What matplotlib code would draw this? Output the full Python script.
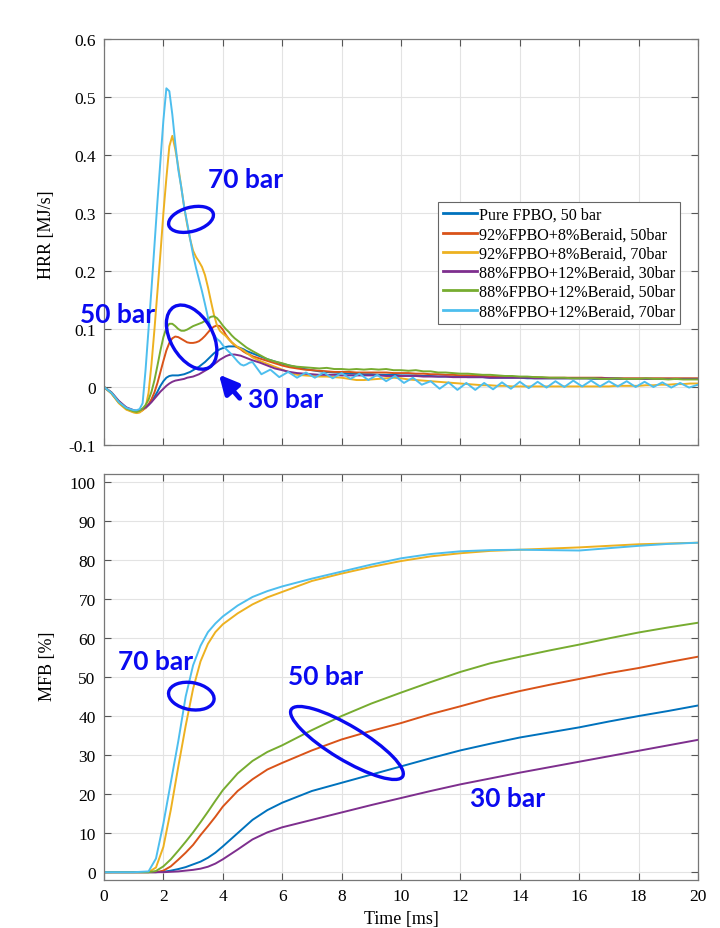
import numpy as np
import matplotlib
matplotlib.use("Agg")
import matplotlib.pyplot as plt
from matplotlib.patches import Ellipse
from matplotlib.transforms import ScaledTranslation

# ---- data ----
labels = [
    "Pure FPBO, 50 bar",
    "92%FPBO+8%Beraid, 50bar",
    "92%FPBO+8%Beraid, 70bar",
    "88%FPBO+12%Beraid, 30bar",
    "88%FPBO+12%Beraid, 50bar",
    "88%FPBO+12%Beraid, 70bar",
]
colors = ["#0072BD", "#D95319", "#EDB120", "#7E2F8E", "#77AC30", "#4DBEEE"]

# HRR time grids [ms]
t_head = np.concatenate([[0, 0.25, 0.5, 0.75], np.round(np.arange(1.0, 4.95, 0.1), 2)])
t_tail = np.arange(5.0, 20.01, 0.25)
t_ripple = np.round(np.arange(5.0, 20.01, 0.3), 2)

# HRR [MJ/s], head: 0..0.75 then 1.0..4.9 step 0.1
hrr_pure_head = [0, -0.010, -0.025, -0.036,
                 -0.041, -0.042, -0.041, -0.039, -0.036, -0.031, -0.025, -0.017, -0.008, 0.002,
                 0.010, 0.016, 0.019, 0.020, 0.020, 0.020, 0.021, 0.022, 0.024, 0.026,
                 0.029, 0.032, 0.035, 0.039, 0.043, 0.048, 0.053, 0.058, 0.062, 0.065,
                 0.067, 0.069, 0.070, 0.070, 0.070, 0.069, 0.067, 0.065, 0.062, 0.060]
hrr_92_50_head = [0, -0.011, -0.027, -0.038,
                  -0.043, -0.044, -0.043, -0.040, -0.036, -0.030, -0.021, -0.009, 0.007, 0.026,
                  0.045, 0.063, 0.076, 0.084, 0.087, 0.086, 0.083, 0.080, 0.077, 0.076,
                  0.076, 0.077, 0.079, 0.083, 0.088, 0.094, 0.100, 0.104, 0.106, 0.105,
                  0.099, 0.090, 0.083, 0.077, 0.072, 0.068, 0.065, 0.061, 0.058, 0.056]
hrr_92_70_head = [0, -0.011, -0.028, -0.039,
                  -0.044, -0.045, -0.044, -0.040, -0.035, -0.010, 0.040, 0.100, 0.165, 0.230,
                  0.300, 0.360, 0.415, 0.433, 0.410, 0.380, 0.345, 0.310, 0.280, 0.255,
                  0.235, 0.224, 0.216, 0.207, 0.193, 0.172, 0.148, 0.125, 0.107, 0.097,
                  0.092, 0.088, 0.082, 0.077, 0.073, 0.069, 0.066, 0.063, 0.059, 0.055]
hrr_88_30_head = [0, -0.009, -0.024, -0.035,
                  -0.040, -0.041, -0.040, -0.038, -0.035, -0.031, -0.026, -0.020, -0.014, -0.008,
                  -0.003, 0.002, 0.006, 0.009, 0.011, 0.012, 0.013, 0.014, 0.016, 0.017,
                  0.018, 0.020, 0.022, 0.025, 0.028, 0.031, 0.035, 0.039, 0.043, 0.047,
                  0.050, 0.053, 0.055, 0.056, 0.056, 0.055, 0.054, 0.052, 0.050, 0.048]
hrr_88_50_head = [0, -0.010, -0.026, -0.037,
                  -0.042, -0.043, -0.041, -0.037, -0.031, -0.022, -0.008, 0.012, 0.037, 0.063,
                  0.086, 0.102, 0.109, 0.109, 0.105, 0.100, 0.097, 0.097, 0.099, 0.102,
                  0.105, 0.107, 0.109, 0.111, 0.114, 0.118, 0.121, 0.122, 0.119, 0.113,
                  0.106, 0.100, 0.095, 0.089, 0.084, 0.080, 0.076, 0.072, 0.068, 0.065]
hrr_88_70_head = [0, -0.010, -0.026, -0.036,
                  -0.040, -0.040, -0.038, -0.028, 0.030, 0.100, 0.170, 0.245, 0.320, 0.390,
                  0.460, 0.515, 0.510, 0.470, 0.420, 0.375, 0.345, 0.310, 0.283, 0.255,
                  0.228, 0.205, 0.185, 0.165, 0.143, 0.120, 0.100, 0.090, 0.083, 0.079,
                  0.072, 0.066, 0.061, 0.056, 0.050, 0.044, 0.039, 0.037, 0.039, 0.042]

# HRR tails, 5.0..20.0 step 0.25
hrr_pure_tail = [0.058, 0.053, 0.048, 0.044, 0.040, 0.037, 0.034, 0.031,
                 0.029, 0.027, 0.026, 0.025, 0.024, 0.023, 0.023, 0.022,
                 0.022, 0.021, 0.021, 0.021, 0.020, 0.020, 0.020, 0.019,
                 0.019, 0.018, 0.018, 0.018, 0.018, 0.017, 0.017, 0.017,
                 0.016, 0.016, 0.016, 0.016, 0.016, 0.015, 0.015, 0.015,
                 0.015, 0.015, 0.015, 0.015, 0.015, 0.015, 0.014, 0.014,
                 0.014, 0.014, 0.014, 0.014, 0.014, 0.014, 0.014, 0.014,
                 0.014, 0.014, 0.014, 0.014, 0.014]
hrr_92_50_tail = [0.053, 0.049, 0.045, 0.041, 0.037, 0.034, 0.032, 0.030,
                  0.029, 0.028, 0.027, 0.026, 0.026, 0.026, 0.025, 0.025,
                  0.025, 0.025, 0.025, 0.024, 0.024, 0.024, 0.023, 0.023,
                  0.022, 0.022, 0.021, 0.021, 0.020, 0.020, 0.019, 0.019,
                  0.018, 0.018, 0.018, 0.017, 0.017, 0.017, 0.017, 0.016,
                  0.016, 0.016, 0.016, 0.016, 0.016, 0.016, 0.016, 0.016,
                  0.015, 0.015, 0.015, 0.015, 0.015, 0.015, 0.015, 0.015,
                  0.015, 0.015, 0.015, 0.015, 0.015]
hrr_92_70_tail = [0.051, 0.045, 0.040, 0.035, 0.030, 0.025, 0.021, 0.020,
                  0.019, 0.018, 0.018, 0.017, 0.016, 0.014, 0.012, 0.012,
                  0.013, 0.014, 0.015, 0.016, 0.015, 0.013, 0.012, 0.011,
                  0.010, 0.009, 0.008, 0.007, 0.006, 0.005, 0.004, 0.003,
                  0.003, 0.002, 0.002, 0.001, 0.001, 0.001, 0.001, 0.001,
                  0.001, 0.001, 0.001, 0.001, 0.001, 0.001, 0.001, 0.001,
                  0.001, 0.002, 0.002, 0.002, 0.002, 0.003, 0.003, 0.004,
                  0.004, 0.005, 0.005, 0.006, 0.006]
hrr_88_30_tail = [0.046, 0.042, 0.037, 0.032, 0.029, 0.026, 0.024, 0.023,
                  0.022, 0.021, 0.021, 0.021, 0.020, 0.020, 0.020, 0.020,
                  0.020, 0.020, 0.019, 0.019, 0.019, 0.019, 0.019, 0.018,
                  0.018, 0.018, 0.018, 0.017, 0.017, 0.017, 0.017, 0.017,
                  0.016, 0.016, 0.016, 0.016, 0.016, 0.016, 0.015, 0.015,
                  0.015, 0.015, 0.015, 0.015, 0.015, 0.015, 0.015, 0.015,
                  0.015, 0.015, 0.014, 0.014, 0.014, 0.014, 0.014, 0.014,
                  0.014, 0.014, 0.014, 0.014, 0.014]
hrr_88_50_tail = [0.062, 0.055, 0.048, 0.044, 0.041, 0.037, 0.035, 0.034,
                  0.033, 0.032, 0.033, 0.031, 0.031, 0.030, 0.031, 0.030,
                  0.031, 0.030, 0.031, 0.029, 0.029, 0.028, 0.029, 0.027,
                  0.027, 0.025, 0.025, 0.024, 0.023, 0.023, 0.022, 0.021,
                  0.021, 0.020, 0.019, 0.019, 0.018, 0.018, 0.017, 0.017,
                  0.016, 0.016, 0.016, 0.015, 0.015, 0.015, 0.015, 0.014,
                  0.014, 0.015, 0.014, 0.014, 0.014, 0.015, 0.014, 0.014,
                  0.013, 0.014, 0.013, 0.013, 0.013]
# 70 bar, 12% Beraid: pressure ripple, 5.0..20.0 step 0.3
hrr_88_70_tail = [0.043, 0.022, 0.030, 0.017, 0.026, 0.016, 0.025, 0.016, 0.025, 0.015,
                  0.024, 0.014, 0.023, 0.012, 0.021, 0.010, 0.019, 0.007, 0.016, 0.004,
                  0.010, -0.003, 0.008, -0.005, 0.007, -0.005, 0.007, -0.004, 0.008, -0.003,
                  0.009, -0.002, 0.009, -0.001, 0.010, 0.000, 0.011, 0.001, 0.011, 0.001,
                  0.010, 0.001, 0.010, 0.000, 0.009, 0.000, 0.008, -0.001, 0.007, -0.001,
                  0.004]

# MFB [%]
t_mfb = [0, 0.5, 1, 1.5, 1.75, 2, 2.25, 2.5, 2.75, 3, 3.25, 3.5, 3.75, 4,
         4.5, 5, 5.5, 6, 7, 8, 9, 10, 11, 12, 13, 14, 15, 16, 17, 18, 19, 20]
mfb_pure = [0, 0, 0, 0, 0, 0.1, 0.4, 0.8, 1.3, 2.0, 2.7, 3.7, 5.0, 6.6,
            10.0, 13.4, 15.9, 17.8, 20.8, 22.9, 25.0, 27.1, 29.2, 31.2, 32.9, 34.5, 35.8, 37.1, 38.6, 40.0, 41.3, 42.7]
mfb_92_50 = [0, 0, 0, 0, 0, 0.4, 1.5, 3.2, 5.0, 7.0, 9.5, 11.8, 14.2, 16.8,
             20.8, 23.8, 26.3, 28.0, 31.2, 34.0, 36.2, 38.2, 40.5, 42.5, 44.6, 46.4, 48.0, 49.5, 51.0, 52.3, 53.8, 55.2]
mfb_92_70 = [0, 0, 0, 0, 1.2, 6.5, 16.0, 27.0, 37.5, 47.0, 54.0, 58.5, 61.5, 63.5,
             66.3, 68.6, 70.4, 71.8, 74.6, 76.5, 78.2, 79.7, 80.9, 81.7, 82.3, 82.6, 82.9, 83.2, 83.6, 84.0, 84.2, 84.4]
mfb_88_30 = [0, 0, 0, 0, 0, 0, 0.1, 0.2, 0.4, 0.6, 0.9, 1.4, 2.2, 3.3,
             5.8, 8.4, 10.2, 11.5, 13.4, 15.3, 17.2, 19.0, 20.8, 22.5, 24.0, 25.5, 26.9, 28.3, 29.7, 31.1, 32.5, 33.9]
mfb_88_50 = [0, 0, 0, 0, 0.3, 1.5, 3.3, 5.5, 7.8, 10.2, 12.8, 15.5, 18.3, 21.0,
             25.3, 28.5, 30.8, 32.5, 36.4, 40.0, 43.2, 46.0, 48.7, 51.3, 53.5, 55.2, 56.8, 58.3, 59.9, 61.4, 62.7, 63.9]
mfb_88_70 = [0, 0, 0, 0.2, 3.5, 12.5, 23.0, 33.5, 45.0, 53.0, 58.0, 61.5, 63.7, 65.5,
             68.3, 70.5, 72.0, 73.2, 75.2, 77.0, 78.8, 80.4, 81.5, 82.2, 82.5, 82.6, 82.5, 82.4, 83.0, 83.6, 84.1, 84.4]

hrr_heads = [hrr_pure_head, hrr_92_50_head, hrr_92_70_head, hrr_88_30_head, hrr_88_50_head, hrr_88_70_head]
hrr_tails = [hrr_pure_tail, hrr_92_50_tail, hrr_92_70_tail, hrr_88_30_tail, hrr_88_50_tail, hrr_88_70_tail]
tail_times = [t_tail, t_tail, t_tail, t_tail, t_tail, t_ripple]
mfb_all = [mfb_pure, mfb_92_50, mfb_92_70, mfb_88_30, mfb_88_50, mfb_88_70]

MARK = "#0A0AF0"
SERIF = ["Liberation Serif", "DejaVu Serif"]


def style_axes(ax):
    ax.set_xlim(0, 20)
    ax.set_xticks(np.arange(0, 21, 2))
    ax.grid(True, color="#e3e3e3", lw=0.8)
    ax.set_axisbelow(True)
    ax.tick_params(direction="in", top=True, right=True, length=5, width=0.8,
                   color="#555555", labelsize=12.5, pad=6)
    for sp in ax.spines.values():
        sp.set_color("#777777")
        sp.set_linewidth(0.9)


def ring(fig, ax, x, y, w, h, angle):
    # ellipse sized in inches, centred on a data point
    tr = fig.dpi_scale_trans + ScaledTranslation(x, y, ax.transData)
    ax.add_patch(Ellipse((0, 0), w, h, angle=angle, transform=tr, fill=False,
                         ec=MARK, lw=2.4, clip_on=False, zorder=5))


def note(ax, x, y, s):
    ax.text(x, y, s, color=MARK, fontsize=19, fontweight="bold", family="Lato",
            ha="center", va="center", zorder=6)


def main():
    plt.rcParams["font.family"] = SERIF
    plt.rcParams["axes.unicode_minus"] = False

    fig = plt.figure(figsize=(7.2, 9.29), dpi=100)
    ax1 = fig.add_axes([104 / 720, 1 - 446 / 929, 594 / 720, 406 / 929])
    ax2 = fig.add_axes([104 / 720, 1 - 881 / 929, 594 / 720, 406 / 929])

    for head, tail, tt, c, lab in zip(hrr_heads, hrr_tails, tail_times, colors, labels):
        t = np.concatenate([t_head, tt])
        v = np.concatenate([head, tail])
        ax1.plot(t, v, color=c, lw=1.4, label=lab)

    for m, c in zip(mfb_all, colors):
        ax2.plot(t_mfb, m, color=c, lw=1.4)

    style_axes(ax1)
    ax1.set_ylim(-0.1, 0.6)
    ax1.set_yticks(np.round(np.arange(-0.1, 0.61, 0.1), 1))
    ax1.set_yticklabels([f"{v:g}" for v in np.round(np.arange(-0.1, 0.61, 0.1), 1)])
    ax1.set_xticklabels([])
    ax1.set_ylabel("HRR [MJ/s]", fontsize=13)
    ax1.yaxis.set_label_coords(-0.083, 0.52)

    leg = ax1.legend(loc="upper right", bbox_to_anchor=(0.97, 0.598), fontsize=11.6,
                     frameon=True, fancybox=False, framealpha=1, edgecolor="#666666",
                     handlelength=2.1, handletextpad=0.15, borderpad=0.3, labelspacing=0.2,
                     borderaxespad=0)
    leg.get_frame().set_linewidth(0.8)
    for ln in leg.get_lines():
        ln.set_linewidth(2.0)

    style_axes(ax2)
    ax2.set_ylim(-2, 102)
    ax2.set_yticks(np.arange(0, 101, 10))
    ax2.set_ylabel("MFB [%]", fontsize=13)
    ax2.yaxis.set_label_coords(-0.08, 0.53)
    ax2.set_xlabel("Time [ms]", fontsize=13)
    ax2.xaxis.set_label_coords(0.5, -0.075)

    # annotations, HRR panel
    note(ax1, 4.77, 0.359, "70 bar")
    ring(fig, ax1, 2.93, 0.289, 0.46, 0.24, 15)
    note(ax1, 0.45, 0.126, "50 bar")
    ring(fig, ax1, 2.95, 0.086, 0.70, 0.42, -60)
    note(ax1, 6.1, -0.02, "30 bar")
    ax1.annotate("", xy=(3.81, 0.025), xytext=(4.63, -0.023),
                 arrowprops=dict(arrowstyle="-|>", color=MARK, lw=3.5, mutation_scale=28))

    # annotations, MFB panel
    note(ax2, 1.72, 54.0, "70 bar")
    ring(fig, ax2, 2.94, 45.1, 0.46, 0.27, -10)
    note(ax2, 7.47, 50.2, "50 bar")
    ring(fig, ax2, 8.18, 33.1, 1.30, 0.34, -31)
    note(ax2, 13.6, 18.9, "30 bar")

    fig.savefig("out.png", dpi=100)


if __name__ == "__main__":
    main()
